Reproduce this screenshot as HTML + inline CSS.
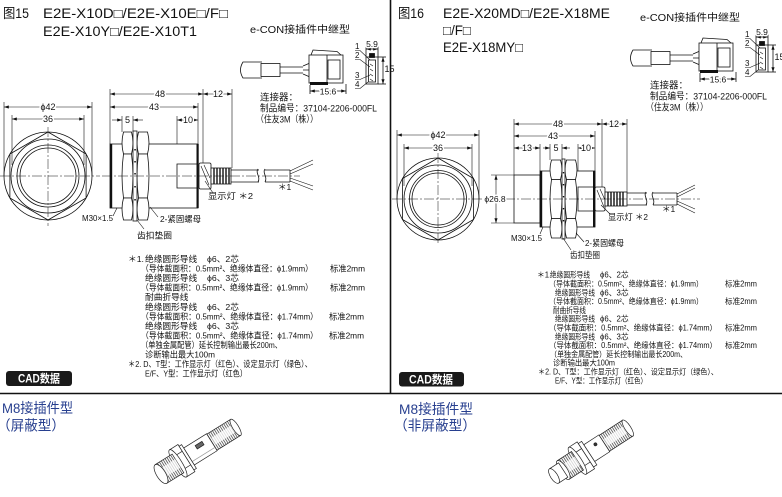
<!DOCTYPE html>
<html><head><meta charset="utf-8">
<style>
html,body{margin:0;padding:0;background:#fff;}
svg{display:block;}
text{font-family:"Liberation Sans","Noto Sans CJK SC",sans-serif;fill:#111;}
.h{stroke:#fff;stroke-width:3;paint-order:stroke;stroke-linejoin:round;}
.b{fill:#273f8f;}
</style></head><body>
<svg width="782" height="497" viewBox="0 0 782 497" xmlns="http://www.w3.org/2000/svg">
<defs>
<marker id="a" viewBox="0 0 6 4" refX="6" refY="2" markerWidth="5" markerHeight="3.2" markerUnits="userSpaceOnUse" orient="auto-start-reverse"><path d="M0,0 L6,2 L0,4z" fill="#111"/></marker>
<pattern id="th" width="2.2" height="40" patternUnits="userSpaceOnUse"><rect width="2.2" height="40" fill="#fff"/><line x1="0.6" y1="0" x2="0.6" y2="40" stroke="#333" stroke-width="0.7"/></pattern>
</defs>

<!-- dividers -->
<line x1="390.5" y1="0" x2="390.5" y2="394" stroke="#111" stroke-width="1.6"/>
<line x1="0" y1="393.5" x2="782" y2="393.5" stroke="#111" stroke-width="1.6"/>

<!-- ============ LEFT HEADER ============ -->
<text x="3" y="18" font-size="13.5" textLength="26" lengthAdjust="spacingAndGlyphs">图15</text>
<text x="43" y="18" font-size="13.5" textLength="185" lengthAdjust="spacingAndGlyphs">E2E-X10D□/E2E-X10E□/F□</text>
<text x="43" y="36" font-size="13.5" textLength="154" lengthAdjust="spacingAndGlyphs">E2E-X10Y□/E2E-X10T1</text>

<!-- connector group (left coords) -->
<g id="conn">
<text x="250" y="33" font-size="10" textLength="100" lengthAdjust="spacingAndGlyphs">e-CON接插件中继型</text>
<g stroke="#111" stroke-width="0.8" fill="none">
<path d="M262,62 H243 Q238,70 243,78 H262"/>
<rect x="261" y="63.5" width="19" height="13" fill="#fff"/>
<line x1="280" y1="67" x2="303" y2="67"/><line x1="280" y1="73" x2="303" y2="73"/>
<path d="M303,66 L310,63 M303,70 L310,70 M303,74 L310,77"/>
<rect x="309" y="55" width="34" height="28" fill="#fff"/>
<path d="M311,55 L313,50 L337,51.5 L341,55"/>
<line x1="327" y1="55" x2="327" y2="83"/>
<rect x="328" y="60" width="12" height="19"/>
<rect x="310" y="82" width="18" height="3" fill="#111" stroke="none"/>
<line x1="310" y1="85" x2="310" y2="94"/><line x1="346" y1="84" x2="346" y2="94"/>
<line x1="310" y1="91" x2="346" y2="91" marker-start="url(#a)" marker-end="url(#a)"/>
<!-- front view -->
<rect x="366" y="57" width="12" height="27" fill="#fff"/>
<rect x="368.5" y="60" width="7" height="22"/>
<rect x="369.5" y="53.5" width="5" height="4" fill="#111"/>
<path d="M370,64 l3,2 M370,69 l3,2 M370,74 l3,2 M370,79 l3,2" stroke-width="0.6"/>
<line x1="366" y1="46" x2="366" y2="57"/><line x1="378" y1="46" x2="378" y2="57"/>
<line x1="366" y1="49" x2="378" y2="49" marker-start="url(#a)" marker-end="url(#a)"/>
<line x1="378" y1="57" x2="386" y2="57"/><line x1="378" y1="84" x2="386" y2="84"/>
<line x1="383" y1="57" x2="383" y2="84" marker-start="url(#a)" marker-end="url(#a)"/>
<path d="M355,50.5 H360 L370,60 M355,59.5 H360 L370,67 M355,79.5 H360 L370,75 M355,88.5 H360 L368,82" stroke-width="0.6"/>
</g>
<text x="328" y="94.5" font-size="8.5" text-anchor="middle" class="h">15.6</text>
<text x="372" y="47" font-size="8.5" text-anchor="middle" class="h">5.9</text>
<text x="384.5" y="72" font-size="9">15</text>
<text x="355" y="49" font-size="8">1</text>
<text x="355" y="58" font-size="8">2</text>
<text x="355" y="78" font-size="8">3</text>
<text x="355" y="87" font-size="8">4</text>
<text x="260" y="100.5" font-size="9.5">连接器：</text>
<text x="260" y="111.5" font-size="9.5" textLength="117" lengthAdjust="spacingAndGlyphs">制品编号：37104-2206-000FL</text>
<text x="256" y="122.5" font-size="9.5" textLength="62" lengthAdjust="spacingAndGlyphs">（住友3M（株））</text>
</g>

<!-- ============ LEFT DRAWING ============ -->
<g stroke="#111" stroke-width="0.8" fill="none">
<circle cx="48" cy="176" r="44"/>
<polygon points="48,132 86.1,154 86.1,198 48,220 9.9,198 9.9,154"/>
<circle cx="48" cy="176" r="37"/>
<circle cx="48" cy="176" r="31"/>
<circle cx="48" cy="176" r="28"/>
<g stroke-width="0.5" stroke-dasharray="10 2 2 2"><line x1="0" y1="176" x2="100" y2="176"/><line x1="48" y1="127" x2="48" y2="226"/></g>
<line x1="4" y1="102" x2="4" y2="176" stroke-width="0.6"/><line x1="92" y1="102" x2="92" y2="176" stroke-width="0.6"/>
<line x1="4" y1="107" x2="92" y2="107" marker-start="url(#a)" marker-end="url(#a)" stroke-width="0.6"/>
<line x1="12" y1="115" x2="12" y2="165" stroke-width="0.6"/><line x1="84" y1="115" x2="84" y2="165" stroke-width="0.6"/>
<line x1="12" y1="119" x2="84" y2="119" marker-start="url(#a)" marker-end="url(#a)" stroke-width="0.6"/>

<g stroke-width="0.6">
<line x1="110" y1="89" x2="110" y2="144"/>
<line x1="198" y1="103" x2="198" y2="164"/>
<line x1="203" y1="89" x2="203" y2="163"/>
<line x1="232" y1="89" x2="232" y2="168"/>
<line x1="177" y1="116" x2="177" y2="164"/>
<line x1="122" y1="116" x2="122" y2="132"/>
<line x1="133" y1="116" x2="133" y2="132"/>
<line x1="110" y1="94" x2="203" y2="94" marker-start="url(#a)" marker-end="url(#a)"/>
<line x1="203" y1="94" x2="232" y2="94" marker-start="url(#a)" marker-end="url(#a)"/>
<line x1="110" y1="107" x2="198" y2="107" marker-start="url(#a)" marker-end="url(#a)"/>
<line x1="112" y1="120" x2="122" y2="120" marker-end="url(#a)"/>
<line x1="143" y1="120" x2="133" y2="120" marker-end="url(#a)"/>
<line x1="177" y1="120" x2="198" y2="120" marker-start="url(#a)" marker-end="url(#a)"/>
</g>
<rect x="110" y="144" width="88" height="64" fill="#fff"/>
<rect x="110" y="144" width="2.2" height="64" fill="#111" stroke="none"/>
<rect x="196.5" y="144" width="2.2" height="64" fill="#111" stroke="none"/>
<path d="M198,164 H177 V188 H198"/>
<g fill="#fff">
<path d="M123.5,132 Q120.5,143 123.5,154 L131.5,154 Q134.5,143 131.5,132 Z"/>
<path d="M123.5,154 Q120.5,176 123.5,198 L131.5,198 Q134.5,176 131.5,154 Z"/>
<path d="M123.5,198 Q120.5,209 123.5,220 L131.5,220 Q134.5,209 131.5,198 Z"/>
<path d="M138.5,132 Q135.5,143 138.5,154 L147.5,154 Q150.5,143 147.5,132 Z"/>
<path d="M138.5,154 Q135.5,176 138.5,198 L147.5,198 Q150.5,176 147.5,154 Z"/>
<path d="M138.5,198 Q135.5,209 138.5,220 L147.5,220 Q150.5,209 147.5,198 Z"/>
<rect x="133" y="131" width="4" height="90"/>
</g>
<g fill="#111" stroke="none"><rect x="134.3" y="149" width="1.5" height="1.5"/><rect x="134.3" y="161" width="1.5" height="1.5"/><rect x="134.3" y="173" width="1.5" height="1.5"/><rect x="134.3" y="186" width="1.5" height="1.5"/><rect x="134.3" y="199" width="1.5" height="1.5"/></g>
<rect x="199" y="163" width="12" height="26" rx="1.5" fill="#fff"/>
<path d="M201,166 L209,185 M204,165 L210,178" stroke-width="0.6"/>
<rect x="211" y="168" width="20" height="16" fill="#fff"/>
<g stroke-width="1.4"><line x1="214" y1="168" x2="214" y2="184"/><line x1="217" y1="168" x2="217" y2="184"/><line x1="220" y1="168" x2="220" y2="184"/><line x1="223" y1="168" x2="223" y2="184"/><line x1="226" y1="168" x2="226" y2="184"/><line x1="229" y1="168" x2="229" y2="184"/></g>
<line x1="231" y1="170" x2="290" y2="170"/><line x1="231" y1="182" x2="290" y2="182"/><line x1="290" y1="170" x2="290" y2="182"/>
<rect x="259" y="168" width="6" height="16" fill="#fff" stroke="none"/>
<path d="M258,169 c-3,4 3,8 0,13 M265,169 c-3,4 3,8 0,13"/>
<path d="M290,171 L313,160 M290,174 L313,164 M290,178 L313,186 M290,181 L313,190" stroke-width="0.6"/>
<line x1="102" y1="176" x2="300" y2="176" stroke-width="0.5" stroke-dasharray="10 2 2 2"/>
<path d="M113,216 L117,208 M150,207 L158,217 M137,220 L144,229 M205,181 L213,193" stroke-width="0.6"/>
</g>
<g font-size="9">
<text x="48" y="110" text-anchor="middle" class="h">ϕ42</text>
<text x="48" y="122" text-anchor="middle" class="h">36</text>
<text x="160" y="97" text-anchor="middle" class="h">48</text>
<text x="218" y="97" text-anchor="middle" class="h">12</text>
<text x="154" y="110" text-anchor="middle" class="h">43</text>
<text x="127.5" y="123" text-anchor="middle" class="h">5</text>
<text x="188" y="123" text-anchor="middle" class="h">10</text>
</g>
<g font-size="8.5">
<text x="82" y="221" textLength="31" lengthAdjust="spacingAndGlyphs">M30×1.5</text>
<text x="160" y="222" textLength="41" lengthAdjust="spacingAndGlyphs">2-紧固螺母</text>
<text x="137" y="238.5" textLength="35" lengthAdjust="spacingAndGlyphs">齿扣垫圈</text>
<text x="208" y="199" textLength="45" lengthAdjust="spacingAndGlyphs">显示灯 ＊2</text>
<text x="278" y="190">＊1</text>
</g>

<!-- left notes -->
<g font-size="8.7">
<text x="128" y="262">＊1.</text><text x="145" y="262">绝缘圆形导线</text><text x="207" y="262">ϕ6、2芯</text>
<text x="141" y="271.5" textLength="172" lengthAdjust="spacingAndGlyphs">（导体截面积：0.5mm²、绝缘体直径：ϕ1.9mm）</text><text x="330" y="271.5" textLength="35" lengthAdjust="spacingAndGlyphs">标准2mm</text>
<text x="145" y="281.1">绝缘圆形导线</text><text x="207" y="281.1">ϕ6、3芯</text>
<text x="141" y="290.6" textLength="172" lengthAdjust="spacingAndGlyphs">（导体截面积：0.5mm²、绝缘体直径：ϕ1.9mm）</text><text x="330" y="290.6" textLength="35" lengthAdjust="spacingAndGlyphs">标准2mm</text>
<text x="145" y="300.2">耐曲折导线</text>
<text x="145" y="309.8">绝缘圆形导线</text><text x="207" y="309.8">ϕ6、2芯</text>
<text x="141" y="319.3" textLength="177" lengthAdjust="spacingAndGlyphs">（导体截面积：0.5mm²、绝缘体直径：ϕ1.74mm）</text><text x="329" y="319.3" textLength="35" lengthAdjust="spacingAndGlyphs">标准2mm</text>
<text x="145" y="328.9">绝缘圆形导线</text><text x="207" y="328.9">ϕ6、3芯</text>
<text x="141" y="338.4" textLength="177" lengthAdjust="spacingAndGlyphs">（导体截面积：0.5mm²、绝缘体直径：ϕ1.74mm）</text><text x="329" y="338.4" textLength="35" lengthAdjust="spacingAndGlyphs">标准2mm</text>
<text x="141" y="348" textLength="141" lengthAdjust="spacingAndGlyphs">（单独金属配管）延长控制输出最长200m、</text>
<text x="145" y="357.5" textLength="70" lengthAdjust="spacingAndGlyphs">诊断输出最大100m</text>
<text x="128" y="367" textLength="184" lengthAdjust="spacingAndGlyphs">＊2. D、T型：工作显示灯（红色）、设定显示灯（绿色）、</text>
<text x="145" y="376.6" textLength="102" lengthAdjust="spacingAndGlyphs">E/F、Y型：工作显示灯（红色）</text>
</g>

<!-- CAD badges -->
<rect x="6" y="371" width="66" height="15" rx="3" fill="#1a1a1a"/>
<text x="18" y="382.5" font-size="11.5" font-weight="bold" style="fill:#fff" textLength="42" lengthAdjust="spacingAndGlyphs">CAD数据</text>
<rect x="399" y="372" width="65" height="14.5" rx="3" fill="#1a1a1a"/>
<text x="409" y="383.3" font-size="11.5" font-weight="bold" style="fill:#fff" textLength="44" lengthAdjust="spacingAndGlyphs">CAD数据</text>

<!-- ============ RIGHT HEADER ============ -->
<text x="398" y="18" font-size="13.5" textLength="26" lengthAdjust="spacingAndGlyphs">图16</text>
<text x="443" y="18" font-size="13.5" textLength="167" lengthAdjust="spacingAndGlyphs">E2E-X20MD□/E2E-X18ME</text>
<text x="443" y="35" font-size="13.5" textLength="28" lengthAdjust="spacingAndGlyphs">□/F□</text>
<text x="443" y="52" font-size="13.5" textLength="80" lengthAdjust="spacingAndGlyphs">E2E-X18MY□</text>
<use href="#conn" transform="translate(390,-12)"/>

<!-- ============ RIGHT DRAWING ============ -->
<g stroke="#111" stroke-width="0.8" fill="none">
<circle cx="438" cy="199" r="41"/>
<polygon points="438,158 473.5,178.5 473.5,219.5 438,240 402.5,219.5 402.5,178.5"/>
<circle cx="438" cy="199" r="34"/>
<circle cx="438" cy="199" r="28.5"/>
<circle cx="438" cy="199" r="26"/>
<g stroke-width="0.5" stroke-dasharray="10 2 2 2"><line x1="392" y1="199" x2="484" y2="199"/><line x1="438" y1="153" x2="438" y2="245"/></g>
<g stroke-width="0.6">
<line x1="397" y1="130" x2="397" y2="199"/><line x1="479" y1="130" x2="479" y2="199"/>
<line x1="397" y1="135" x2="479" y2="135" marker-start="url(#a)" marker-end="url(#a)"/>
<line x1="404" y1="144" x2="404" y2="186"/><line x1="472" y1="144" x2="472" y2="186"/>
<line x1="404" y1="148" x2="472" y2="148" marker-start="url(#a)" marker-end="url(#a)"/>
<line x1="514" y1="119" x2="514" y2="175"/>
<line x1="595" y1="131" x2="595" y2="187"/>
<line x1="602" y1="119" x2="602" y2="190"/>
<line x1="627" y1="119" x2="627" y2="192"/>
<line x1="540" y1="144" x2="540" y2="171"/>
<line x1="550" y1="144" x2="550" y2="160"/>
<line x1="562" y1="144" x2="562" y2="160"/>
<line x1="578" y1="144" x2="578" y2="187"/>
<line x1="514" y1="124" x2="602" y2="124" marker-start="url(#a)" marker-end="url(#a)"/>
<line x1="602" y1="124" x2="627" y2="124" marker-start="url(#a)" marker-end="url(#a)"/>
<line x1="514" y1="136" x2="595" y2="136" marker-start="url(#a)" marker-end="url(#a)"/>
<line x1="514" y1="148" x2="540" y2="148" marker-start="url(#a)" marker-end="url(#a)"/>
<line x1="543" y1="148" x2="550" y2="148" marker-end="url(#a)"/>
<line x1="570" y1="148" x2="562" y2="148" marker-end="url(#a)"/>
<line x1="578" y1="148" x2="595" y2="148" marker-start="url(#a)" marker-end="url(#a)"/>
<line x1="491" y1="175" x2="514" y2="175"/><line x1="491" y1="223" x2="514" y2="223"/>
<line x1="496" y1="175" x2="496" y2="223" marker-start="url(#a)" marker-end="url(#a)"/>
</g>
<rect x="514" y="175" width="26" height="48" fill="#fff"/>
<rect x="540" y="171" width="55" height="56" fill="#fff"/>
<rect x="540" y="171" width="2.2" height="56" fill="#111" stroke="none"/>
<rect x="593" y="171" width="2.2" height="56" fill="#111" stroke="none"/>
<path d="M595,187 H578 V211 H595"/>
<g fill="#fff">
<path d="M551.5,160 Q548.5,169.75 551.5,179.5 L560.5,179.5 Q563.5,169.75 560.5,160 Z"/>
<path d="M551.5,179.5 Q548.5,199 551.5,218.5 L560.5,218.5 Q563.5,199 560.5,179.5 Z"/>
<path d="M551.5,218.5 Q548.5,228.25 551.5,238 L560.5,238 Q563.5,228.25 560.5,218.5 Z"/>
<path d="M566.5,160 Q563.5,169.75 566.5,179.5 L575.5,179.5 Q578.5,169.75 575.5,160 Z"/>
<path d="M566.5,179.5 Q563.5,199 566.5,218.5 L575.5,218.5 Q578.5,199 575.5,179.5 Z"/>
<path d="M566.5,218.5 Q563.5,228.25 566.5,238 L575.5,238 Q578.5,228.25 575.5,218.5 Z"/>
<rect x="562" y="159" width="3" height="80"/>
</g>
<g fill="#111" stroke="none"><rect x="562.8" y="172" width="1.4" height="1.4"/><rect x="562.8" y="184" width="1.4" height="1.4"/><rect x="562.8" y="196" width="1.4" height="1.4"/><rect x="562.8" y="208" width="1.4" height="1.4"/><rect x="562.8" y="220" width="1.4" height="1.4"/></g>
<rect x="595" y="187" width="10" height="24" rx="1.5" fill="#fff"/>
<path d="M597,190 L604,207 M600,189 L605,200" stroke-width="0.6"/>
<rect x="605" y="192" width="22" height="14" fill="#fff"/>
<g stroke-width="1.4"><line x1="608" y1="192" x2="608" y2="206"/><line x1="611" y1="192" x2="611" y2="206"/><line x1="614" y1="192" x2="614" y2="206"/><line x1="617" y1="192" x2="617" y2="206"/><line x1="620" y1="192" x2="620" y2="206"/><line x1="623" y1="192" x2="623" y2="206"/></g>
<line x1="627" y1="193" x2="677" y2="193"/><line x1="627" y1="205" x2="677" y2="205"/><line x1="677" y1="193" x2="677" y2="205"/>
<rect x="647" y="191" width="6" height="16" fill="#fff" stroke="none"/>
<path d="M646,192 c-3,4 3,8 0,13 M653,192 c-3,4 3,8 0,13"/>
<path d="M677,194 L695,185 M677,197 L695,188 M677,201 L695,209 M677,204 L695,213" stroke-width="0.6"/>
<line x1="505" y1="199" x2="700" y2="199" stroke-width="0.5" stroke-dasharray="10 2 2 2"/>
<path d="M543,227 L540,234 M576,233 L584,242 M563,238 L571,250 M601,205 L610,214" stroke-width="0.6"/>
</g>
<g font-size="9">
<text x="438" y="138" text-anchor="middle" class="h">ϕ42</text>
<text x="438" y="151" text-anchor="middle" class="h">36</text>
<text x="558" y="127" text-anchor="middle" class="h">48</text>
<text x="614" y="127" text-anchor="middle" class="h">12</text>
<text x="553" y="139" text-anchor="middle" class="h">43</text>
<text x="527" y="151" text-anchor="middle" class="h">13</text>
<text x="556" y="151" text-anchor="middle" class="h">5</text>
<text x="586" y="151" text-anchor="middle" class="h">10</text>
<text x="495" y="202" text-anchor="middle" class="h" font-size="8.5">ϕ26.8</text>
</g>
<g font-size="8.5">
<text x="511" y="241" textLength="31" lengthAdjust="spacingAndGlyphs">M30×1.5</text>
<text x="585" y="246" textLength="39" lengthAdjust="spacingAndGlyphs">2-紧固螺母</text>
<text x="570" y="258" textLength="30" lengthAdjust="spacingAndGlyphs">齿扣垫圈</text>
<text x="608" y="220" textLength="40" lengthAdjust="spacingAndGlyphs">显示灯 ＊2</text>
<text x="662" y="212">＊1</text>
</g>

<!-- right notes -->
<g font-size="7.8">
<text x="537" y="277.7">＊1.</text><text x="550" y="277.7" textLength="40" lengthAdjust="spacingAndGlyphs">绝缘圆形导线</text><text x="600" y="277.7">ϕ6、2芯</text>
<text x="549" y="286.5" textLength="154" lengthAdjust="spacingAndGlyphs">（导体截面积：0.5mm²、绝缘体直径：ϕ1.9mm）</text><text x="725" y="286.5" textLength="32" lengthAdjust="spacingAndGlyphs">标准2mm</text>
<text x="555" y="295.3" textLength="40" lengthAdjust="spacingAndGlyphs">绝缘圆形导线</text><text x="600" y="295.3">ϕ6、3芯</text>
<text x="549" y="304.1" textLength="154" lengthAdjust="spacingAndGlyphs">（导体截面积：0.5mm²、绝缘体直径：ϕ1.9mm）</text><text x="725" y="304.1" textLength="32" lengthAdjust="spacingAndGlyphs">标准2mm</text>
<text x="553" y="312.9" textLength="33" lengthAdjust="spacingAndGlyphs">耐曲折导线</text>
<text x="555" y="321.7" textLength="40" lengthAdjust="spacingAndGlyphs">绝缘圆形导线</text><text x="600" y="321.7">ϕ6、2芯</text>
<text x="549" y="330.5" textLength="168" lengthAdjust="spacingAndGlyphs">（导体截面积：0.5mm²、绝缘体直径：ϕ1.74mm）</text><text x="725" y="330.5" textLength="32" lengthAdjust="spacingAndGlyphs">标准2mm</text>
<text x="555" y="339.3" textLength="40" lengthAdjust="spacingAndGlyphs">绝缘圆形导线</text><text x="600" y="339.3">ϕ6、3芯</text>
<text x="549" y="348.1" textLength="168" lengthAdjust="spacingAndGlyphs">（导体截面积：0.5mm²、绝缘体直径：ϕ1.74mm）</text><text x="725" y="348.1" textLength="32" lengthAdjust="spacingAndGlyphs">标准2mm</text>
<text x="550" y="356.9" textLength="137" lengthAdjust="spacingAndGlyphs">（单独金属配管）延长控制输出最长200m、</text>
<text x="553" y="365.7" textLength="62" lengthAdjust="spacingAndGlyphs">诊断输出最大100m</text>
<text x="538" y="374.5" textLength="180" lengthAdjust="spacingAndGlyphs">＊2. D、T型：工作显示灯（红色）、设定显示灯（绿色）、</text>
<text x="555" y="383.3" textLength="92" lengthAdjust="spacingAndGlyphs">E/F、Y型：工作显示灯（红色）</text>
</g>

<!-- ============ BOTTOM ============ -->
<text x="2" y="413" font-size="14" class="b" textLength="71" lengthAdjust="spacingAndGlyphs">M8接插件型</text>
<text x="-3" y="430.5" font-size="14" class="b" textLength="68" lengthAdjust="spacingAndGlyphs">（屏蔽型）</text>
<text x="399" y="414" font-size="14" class="b" textLength="74" lengthAdjust="spacingAndGlyphs">M8接插件型</text>
<text x="394" y="430.5" font-size="14" class="b" textLength="82" lengthAdjust="spacingAndGlyphs">（非屏蔽型）</text>

<!-- left product -->
<g transform="translate(161,474) rotate(-32)" stroke="#222" stroke-width="0.7" fill="#fff">
<rect x="60" y="-9.5" width="28" height="19" fill="url(#th)"/>
<rect x="62" y="-4" width="26" height="8" fill="#fff" stroke="none" opacity="0.8"/>
<ellipse cx="88" cy="0" rx="3" ry="9.5"/>
<rect x="33" y="-10" width="27" height="20"/>
<rect x="44" y="-6" width="8" height="4" fill="#666"/>
<line x1="33" y1="6" x2="60" y2="6" stroke="#999"/>
<rect x="30" y="-14" width="3" height="28"/>
<rect x="20" y="-16" width="10" height="32"/>
<line x1="20" y1="-8" x2="30" y2="-8"/><line x1="20" y1="8" x2="30" y2="8"/>
<ellipse cx="20" cy="0" rx="4" ry="16"/>
<rect x="0" y="-11" width="20" height="22" fill="url(#th)"/>
<rect x="1" y="-5" width="19" height="10" fill="#fff" stroke="none" opacity="0.75"/>
<ellipse cx="0" cy="0" rx="4.5" ry="11"/>
</g>

<!-- right product -->
<g transform="translate(554,476) rotate(-33)" stroke="#222" stroke-width="0.7" fill="#fff">
<rect x="60" y="-9.5" width="28" height="19" fill="url(#th)"/>
<rect x="62" y="-4" width="26" height="8" fill="#fff" stroke="none" opacity="0.8"/>
<ellipse cx="88" cy="0" rx="3" ry="9.5"/>
<rect x="42" y="-10" width="18" height="20"/>
<circle cx="52" cy="-4" r="1.5" fill="#333"/>
<rect x="38" y="-14" width="4" height="28"/>
<rect x="28" y="-16" width="10" height="32"/>
<line x1="28" y1="-8" x2="38" y2="-8"/><line x1="28" y1="8" x2="38" y2="8"/>
<ellipse cx="28" cy="0" rx="4" ry="16"/>
<rect x="11" y="-11" width="17" height="22" fill="url(#th)"/>
<rect x="12" y="-5" width="16" height="10" fill="#fff" stroke="none" opacity="0.75"/>
<ellipse cx="11" cy="0" rx="4" ry="11"/>
<rect x="0" y="-8.5" width="11" height="17"/>
<ellipse cx="0" cy="0" rx="3.5" ry="8.5"/>
</g>
</svg>
</body></html>
